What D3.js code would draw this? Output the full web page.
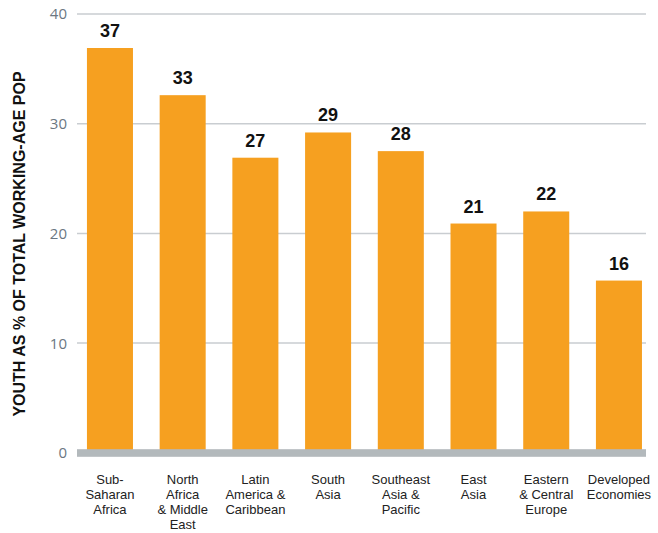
<!DOCTYPE html>
<html>
<head>
<meta charset="utf-8">
<script src="https://cdn.jsdelivr.net/npm/d3@7"></script>
<style>
  html, body { margin: 0; padding: 0; background: #fff; }
  svg { display: block; }
</style>
</head>
<body>
<svg id="chart" width="658" height="533"></svg>
<script>
// Youth share of the working-age population, by region (%)
const regions = [
  ["Sub-", "Saharan", "Africa"],
  ["North", "Africa", "& Middle", "East"],
  ["Latin", "America &", "Caribbean"],
  ["South", "Asia"],
  ["Southeast", "Asia &", "Pacific"],
  ["East", "Asia"],
  ["Eastern", "& Central", "Europe"],
  ["Developed", "Economies"]
];
const youthShare = [36.9, 32.6, 26.9, 29.2, 27.5, 20.9, 22.0, 15.7];
const yTicks = [0, 10, 20, 30, 40];
const yTitle = "YOUTH AS % OF TOTAL WORKING-AGE POP";

const svg = d3.select("#chart");
const gridLeft = 77, gridRight = 646;

const x = d3.scaleBand()
  .domain(d3.range(youthShare.length))
  .range([73.6, 655.3])
  .paddingInner(0.367)
  .paddingOuter(0.1835);

const y = d3.scaleLinear().domain([0, 40]).range([452.8, 14]);

// Gridlines
svg.append("g")
  .selectAll("line")
  .data(yTicks.filter(d => d > 0))
  .join("line")
  .attr("x1", gridLeft).attr("x2", gridRight)
  .attr("y1", d => y(d)).attr("y2", d => y(d))
  .attr("stroke", "#c9cdd1").attr("stroke-width", 1.5);

// Y tick labels
svg.append("g")
  .selectAll("text")
  .data(yTicks)
  .join("text")
  .attr("x", 67).attr("y", d => y(d))
  .attr("dy", "0.36em")
  .attr("text-anchor", "end")
  .attr("font-family", "'Open Sans', sans-serif")
  .attr("font-size", 15)
  .attr("fill", "#6b7782")
  .text(d => d);

// Bars
svg.append("g")
  .selectAll("rect")
  .data(youthShare)
  .join("rect")
  .attr("x", (d, i) => x(i))
  .attr("width", x.bandwidth())
  .attr("y", d => y(d))
  .attr("height", d => y(0) - y(d))
  .attr("fill", "#f6a020");

// Baseline band
svg.append("rect")
  .attr("x", gridLeft).attr("width", gridRight - gridLeft)
  .attr("y", y(0) - 3.6).attr("height", 7.6)
  .attr("fill", "#b3b9bc");

// Value labels
svg.append("g")
  .selectAll("text")
  .data(youthShare)
  .join("text")
  .attr("x", (d, i) => x(i) + x.bandwidth() / 2)
  .attr("y", d => y(d) - 11)
  .attr("text-anchor", "middle")
  .attr("font-family", "'Liberation Sans', Arial, sans-serif")
  .attr("font-weight", "bold")
  .attr("font-size", 18)
  .attr("fill", "#111")
  .text(d => Math.round(d));

// Category labels, one text element per line
const catLines = regions.flatMap((lines, i) =>
  lines.map((t, j) => ({ i, j, t })));
svg.append("g")
  .selectAll("text")
  .data(catLines)
  .join("text")
  .attr("x", d => x(d.i) + x.bandwidth() / 2)
  .attr("y", d => 484 + d.j * 15)
  .attr("text-anchor", "middle")
  .attr("font-family", "'Liberation Sans', Arial, sans-serif")
  .attr("font-size", 13)
  .attr("fill", "#222")
  .text(d => d.t);

// Y axis title
svg.append("text")
  .attr("transform", "translate(25, 244) rotate(-90)")
  .attr("text-anchor", "middle")
  .attr("font-family", "'Liberation Sans', Arial, sans-serif")
  .attr("font-weight", "bold")
  .attr("font-size", 16)
  .attr("fill", "#111")
  .text(yTitle);
</script>
</body>
</html>
